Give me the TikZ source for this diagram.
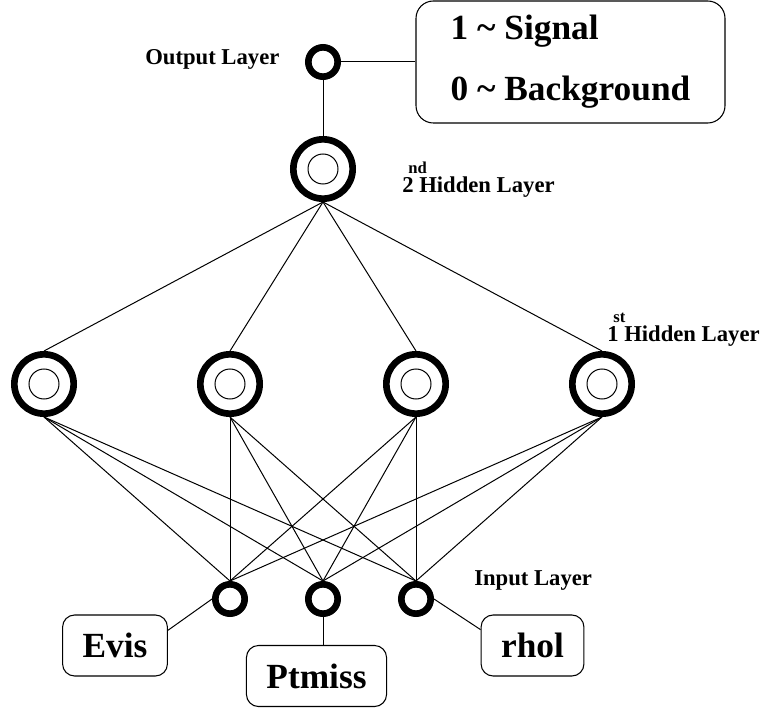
\documentclass[tikz,border=0pt]{standalone}
\usepackage{fontspec}
\setmainfont{Liberation Serif}
\usetikzlibrary{positioning}
\begin{document}
\begin{tikzpicture}[x=0.75pt,y=-0.75pt,unit/.style={circle,draw,line width=5pt,minimum size=22pt,inner sep=0pt},hid/.style={circle,draw,line width=5pt,minimum size=44.5pt,inner sep=0pt,path picture={\draw[line width=0.75pt] (path picture bounding box.center) circle (11.25pt);}},var/.style={draw,line width=0.8pt,rounded corners=9pt,minimum height=45.75pt,inner xsep=15pt,font=\fontsize{26.5}{30}\selectfont\bfseries},lbl/.style={anchor=base west,inner sep=0pt,font=\fontsize{17}{20}\selectfont\bfseries},w/.style={line width=0.75pt}]
\useasboundingbox (0,0) rectangle (764,709);
% output side
\node[unit] (out) at (323,62) {};
\node[draw,line width=0.8pt,rounded corners=13pt,minimum width=231.75pt,minimum height=91.5pt,align=left,font=\fontsize{26.5}{45.75}\selectfont\bfseries] (cls) at (570.5,62) {1 \textasciitilde{} Signal\\0 \textasciitilde{} Background};
\node[lbl] (lout) at (145,65) {Output Layer};
% hidden layers
\node[hid] (h2) at (323,169) {};
\node[lbl] (lh2) at (402,193) {\raisebox{14.25pt}{\makebox[0pt][l]{\hspace{4.5pt}\fontsize{12.5}{14}\selectfont nd}}2 Hidden Layer};
\node[hid] (h1a) at (44,384) {}; \node[hid] (h1b) at (230,384) {}; \node[hid] (h1c) at (416,384) {}; \node[hid] (h1d) at (602,384) {};
\node[lbl] (lh1) at (607,342) {\raisebox{14.25pt}{\makebox[0pt][l]{\hspace{4.5pt}\fontsize{12.5}{14}\selectfont st}}1 Hidden Layer};
% inputs
\node[unit] (in1) at (230,599) {}; \node[unit] (in2) at (323,599) {}; \node[unit] (in3) at (416,599) {};
\node[lbl] (lin) at (474,585) {Input Layer};
\node[var] (evis) at (115,645.5) {Evis};
\node[var] (ptmiss) at (316.5,676) {Ptmiss};
\node[var] (rhol) at (532.5,645.5) {rhol};
% connections
\draw[w] (out)--(cls); \draw[w] (out)--(h2);
\draw[w] (h2.south)--(h1a.north); \draw[w] (h2.south)--(h1b.north); \draw[w] (h2.south)--(h1c.north); \draw[w] (h2.south)--(h1d.north);
\draw[w] (h1a.south)--(in1.north); \draw[w] (h1a.south)--(in2.north); \draw[w] (h1a.south)--(in3.north);
\draw[w] (h1b.south)--(in1.north); \draw[w] (h1b.south)--(in2.north); \draw[w] (h1b.south)--(in3.north);
\draw[w] (h1c.south)--(in1.north); \draw[w] (h1c.south)--(in2.north); \draw[w] (h1c.south)--(in3.north);
\draw[w] (h1d.south)--(in1.north); \draw[w] (h1d.south)--(in2.north); \draw[w] (h1d.south)--(in3.north);
\draw[w] (in1.west)--(evis.16); \draw[w] (in2.south)--(in2.south |- ptmiss.north); \draw[w] (in3.east)--(rhol.163);
\end{tikzpicture}
\end{document}
